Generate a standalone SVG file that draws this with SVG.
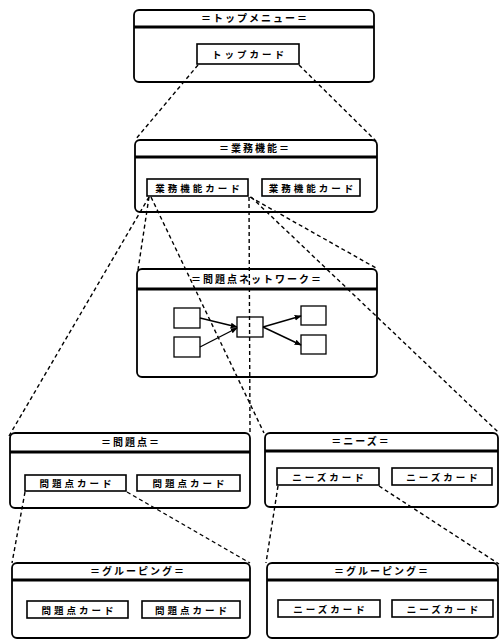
<svg xmlns="http://www.w3.org/2000/svg" width="500" height="641" viewBox="0 0 500 641">
<style>
.box{fill:#fff;stroke:#000;stroke-width:1.8}
.sep{stroke:#000;stroke-width:3}
.card{fill:#fff;stroke:#000;stroke-width:1.6}
.nbox{fill:#fff;stroke:#000;stroke-width:1.3}
.t{font-family:"Noto Sans CJK JP","Noto Sans",sans-serif;font-weight:bold;font-size:10px;fill:#000;text-anchor:middle;letter-spacing:2px}
.c{font-family:"Noto Sans CJK JP","Noto Sans",sans-serif;font-weight:bold;font-size:9.5px;fill:#000;text-anchor:middle;letter-spacing:3px}
.dash{stroke:#000;stroke-width:1.4;stroke-dasharray:4 3;fill:none}
.arr{stroke:#000;stroke-width:1.4;fill:none;marker-end:url(#ah)}
</style>
<defs>
<marker id="ah" viewBox="0 0 10 10" refX="9" refY="5" markerWidth="7" markerHeight="7" orient="auto" markerUnits="userSpaceOnUse">
<path d="M0,1 L10,5 L0,9 Z" fill="#000"/>
</marker>
</defs>
<rect width="500" height="641" fill="#fff"/>

<g id="top-menu">
<rect class="box" x="134" y="10" width="240" height="72" rx="5"/>
<line class="sep" x1="134" y1="27" x2="374" y2="27"/>
<text class="t" x="255" y="22">＝トップメニュー＝</text>
<g id="top-card">
<rect class="card" x="197" y="44" width="102" height="20"/>
<text class="c" x="249.5" y="58">トップカード</text>
</g>
</g>

<g id="business">
<rect class="box" x="135" y="140" width="242" height="72" rx="5"/>
<line class="sep" x1="135" y1="157" x2="377" y2="157"/>
<text class="t" x="255" y="152">＝業務機能＝</text>
<g id="biz-card-1">
<rect class="card" x="147" y="179" width="101" height="17"/>
<text class="c" x="199" y="191.5">業務機能カード</text>
</g>
<g id="biz-card-2">
<rect class="card" x="262" y="179" width="98" height="17"/>
<text class="c" x="312.5" y="191.5">業務機能カード</text>
</g>
</g>

<g id="problem-network">
<rect class="box" x="137" y="269" width="240" height="108" rx="5"/>
<line class="sep" x1="137" y1="289" x2="377" y2="289"/>
<text class="t" x="257" y="283">＝問題点ネットワーク＝</text>
<rect class="nbox" x="174" y="308" width="26" height="20"/>
<rect class="nbox" x="174" y="337" width="26" height="20"/>
<rect class="nbox" x="237" y="317" width="26" height="20"/>
<rect class="nbox" x="301" y="306" width="25" height="19"/>
<rect class="nbox" x="301" y="335" width="25" height="19"/>
<line class="arr" x1="200" y1="318" x2="237" y2="327"/>
<line class="arr" x1="200" y1="347" x2="237" y2="328"/>
<line class="arr" x1="263" y1="327" x2="301" y2="316"/>
<line class="arr" x1="263" y1="327" x2="301" y2="345"/>
</g>

<g id="problems">
<rect class="box" x="10" y="433" width="240" height="75" rx="5"/>
<line class="sep" x1="10" y1="452" x2="250" y2="452"/>
<text class="t" x="131" y="446">＝問題点＝</text>
<g id="prob-card-1">
<rect class="card" x="25" y="475" width="101" height="16"/>
<text class="c" x="77" y="487">問題点カード</text>
</g>
<g id="prob-card-2">
<rect class="card" x="137" y="475" width="103" height="16"/>
<text class="c" x="190" y="487">問題点カード</text>
</g>
</g>

<g id="needs">
<rect class="box" x="265" y="433" width="233" height="74" rx="5"/>
<line class="sep" x1="265" y1="451" x2="498" y2="451"/>
<text class="t" x="361" y="445">＝ニーズ＝</text>
<g id="need-card-1">
<rect class="card" x="277" y="468" width="102" height="17"/>
<text class="c" x="329.5" y="480.5">ニーズカード</text>
</g>
<g id="need-card-2">
<rect class="card" x="392" y="468" width="100" height="17"/>
<text class="c" x="443.5" y="480.5">ニーズカード</text>
</g>
</g>

<g id="grouping-problems">
<rect class="box" x="12" y="563" width="238" height="75" rx="5"/>
<line class="sep" x1="12" y1="580" x2="250" y2="580"/>
<text class="t" x="138" y="575">＝グルーピング＝</text>
<g id="gp-card-1">
<rect class="card" x="27" y="601" width="101" height="17"/>
<text class="c" x="79" y="613.5">問題点カード</text>
</g>
<g id="gp-card-2">
<rect class="card" x="142" y="601" width="98" height="17"/>
<text class="c" x="192.5" y="613.5">問題点カード</text>
</g>
</g>

<g id="grouping-needs">
<rect class="box" x="267" y="563" width="231" height="75" rx="5"/>
<line class="sep" x1="267" y1="580" x2="498" y2="580"/>
<text class="t" x="382" y="575">＝グルーピング＝</text>
<g id="gn-card-1">
<rect class="card" x="278" y="600" width="102" height="17"/>
<text class="c" x="330.5" y="612.5">ニーズカード</text>
</g>
<g id="gn-card-2">
<rect class="card" x="392" y="600" width="101" height="17"/>
<text class="c" x="444" y="612.5">ニーズカード</text>
</g>
</g>

<g id="connectors">
<line class="dash" x1="198" y1="65" x2="135" y2="140"/>
<line class="dash" x1="299" y1="65" x2="376" y2="141"/>
<line class="dash" x1="149" y1="197" x2="9" y2="436"/>
<line class="dash" x1="149" y1="197" x2="138" y2="270"/>
<line class="dash" x1="151" y1="197" x2="264" y2="433"/>
<line class="dash" x1="249" y1="197" x2="250" y2="432"/>
<line class="dash" x1="250" y1="197" x2="376" y2="268"/>
<line class="dash" x1="251" y1="197" x2="498" y2="432"/>
<line class="dash" x1="25" y1="492" x2="12" y2="563"/>
<line class="dash" x1="127" y1="492" x2="250" y2="563"/>
<line class="dash" x1="278" y1="486" x2="266" y2="563"/>
<line class="dash" x1="379" y1="486" x2="499" y2="564"/>
</g>
</svg>
